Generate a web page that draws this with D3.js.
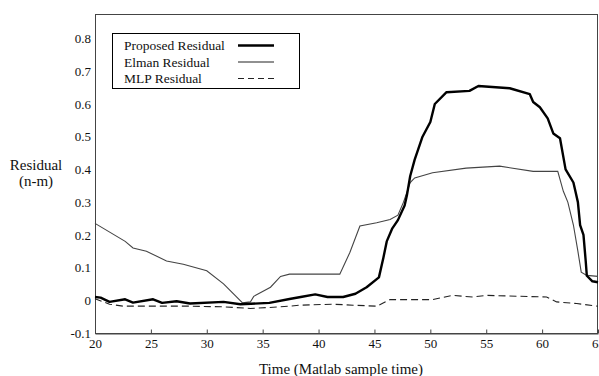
<!DOCTYPE html>
<html>
<head>
<meta charset="utf-8">
<script src="https://cdn.jsdelivr.net/npm/d3@7"></script>
<style>
  body{margin:0;background:#fff;}
  svg text{font-family:"Liberation Serif","Times New Roman",serif;fill:#111;}
</style>
</head>
<body>
<svg id="chart" width="599" height="376"></svg>
<script>
// time (x) and residual (y) for each curve
var proposedT=[20,20.5,21.3,22.7,23.4,25.2,26,27.3,28.5,31.5,33,35.6,37.4,38.4,39.7,40.8,42.2,43.3,44.3,45.4,45.8,46.1,46.6,47.1,47.7,47.9,48.2,48.6,49.3,50.0,50.4,51.45,53.5,54.3,57.1,58.9,59.2,59.8,60.5,61.0,61.6,62.1,62.8,63.0,63.2,63.4,63.7,63.9,64.0,64.5,65];
var proposedV=[0.01,0.008,-0.005,0.003,-0.007,0.003,-0.008,-0.003,-0.01,-0.005,-0.012,-0.008,0.004,0.01,0.018,0.01,0.01,0.02,0.04,0.07,0.13,0.18,0.22,0.245,0.29,0.32,0.38,0.43,0.50,0.545,0.60,0.636,0.64,0.655,0.648,0.63,0.606,0.59,0.556,0.51,0.495,0.40,0.36,0.33,0.30,0.23,0.2,0.12,0.075,0.058,0.055];

var elmanT=[20,22.7,23.4,24.6,26.4,27.9,30.0,31.5,33.2,33.9,34.2,35.7,36.6,37.4,41.9,42.8,43.7,45.2,46.4,47.1,47.6,48.2,48.6,50.2,53.2,56.2,59.2,61.4,61.9,62.3,62.8,63.2,63.5,64,65];
var elmanV=[0.235,0.18,0.16,0.15,0.12,0.11,0.09,0.05,-0.008,-0.005,0.012,0.04,0.073,0.08,0.08,0.146,0.227,0.237,0.247,0.26,0.30,0.36,0.374,0.39,0.404,0.41,0.394,0.394,0.333,0.30,0.23,0.15,0.086,0.076,0.073];

var mlpT=[20,21.3,22.5,28.5,31.5,33.9,35.6,37.4,38.3,41.3,43.1,45.2,46.4,50.2,52,53.8,55,60.4,61.3,63.1,65];
var mlpV=[0.005,-0.012,-0.018,-0.018,-0.02,-0.025,-0.022,-0.018,-0.015,-0.012,-0.015,-0.018,0.002,0.002,0.015,0.01,0.015,0.01,-0.005,-0.01,-0.018];

var xTicks=[20,25,30,35,40,45,50,55,60,65];
var yTicks=[-0.1,0,0.1,0.2,0.3,0.4,0.5,0.6,0.7,0.8];
var yTickLabels=["-0.1","0","0.1","0.2","0.3","0.4","0.5","0.6","0.7","0.8"];
var seriesNames=["Proposed Residual","Elman Residual","MLP Residual"];

(function(){
    var svg=d3.select('#chart');
    var pl=95,pr=598,pt=14,pb=333;

    var x=d3.scaleLinear().domain([20,65]).range([pl,pr]);
    var y=d3.scaleLinear().domain([-0.1,0.875]).range([pb,pt]);

    // frame
    svg.append('rect')
        .attr('x',pl+0.5).attr('y',pt+0.5)
        .attr('width',pr-pl-1).attr('height',pb-pt)
        .attr('fill','none').attr('stroke','#444').attr('stroke-width',1);

    // x axis, ticks pointing in
    var xAxis=d3.axisBottom(x).tickValues(xTicks).tickSizeInner(-4).tickSizeOuter(0).tickPadding(5)
        .tickFormat(d3.format('d'));
    var gx=svg.append('g').attr('transform','translate(0,'+(pb+0.5)+')').call(xAxis);
    gx.select('.domain').attr('stroke','#444');
    gx.selectAll('line').attr('stroke','#444');
    gx.selectAll('text').attr('font-size',13).attr('font-family','Liberation Serif').attr('fill','#222');

    // y axis labels only
    var yAxis=d3.axisLeft(y).tickValues(yTicks).tickSize(0).tickPadding(4)
        .tickFormat(function(d,i){return yTickLabels[i];});
    var gy=svg.append('g').attr('transform','translate('+pl+',0)').call(yAxis);
    gy.select('.domain').remove();
    gy.selectAll('text').attr('font-size',13).attr('font-family','Liberation Serif').attr('fill','#222');

    // axis titles
    svg.append('text').attr('x',36).attr('y',170).attr('text-anchor','middle')
        .attr('font-size',15).text('Residual');
    svg.append('text').attr('x',36).attr('y',186).attr('text-anchor','middle')
        .attr('font-size',15).text('(n-m)');
    svg.append('text').attr('x',341).attr('y',374).attr('text-anchor','middle')
        .attr('font-size',15).text('Time (Matlab sample time)');

    // curves
    var line=d3.line().x(function(d){return x(d[0]);}).y(function(d){return y(d[1]);});
    function pairs(t,v){return t.map(function(d,i){return [d,v[i]];});}

    svg.append('path').datum(pairs(mlpT,mlpV)).attr('d',line)
        .attr('fill','none').attr('stroke','#222').attr('stroke-width',1.1).attr('stroke-dasharray','7,4');
    svg.append('path').datum(pairs(elmanT,elmanV)).attr('d',line)
        .attr('fill','none').attr('stroke','#444').attr('stroke-width',1.1);
    svg.append('path').datum(pairs(proposedT,proposedV)).attr('d',line)
        .attr('fill','none').attr('stroke','#000').attr('stroke-width',2.4).attr('stroke-linejoin','round');

    // legend
    var lg=svg.append('g');
    lg.append('rect').attr('x',112.5).attr('y',33.5).attr('width',187).attr('height',55)
        .attr('fill','#fff').attr('stroke','#000').attr('stroke-width',1);
    var styles=[{w:2.4,dash:null,c:'#000'},{w:1.1,dash:null,c:'#222'},{w:1.1,dash:'6,4',c:'#222'}];
    seriesNames.forEach(function(name,i){
        var yy=50+i*16.5;
        lg.append('text').attr('x',124).attr('y',yy).attr('font-size',13.5).text(name);
        lg.append('line').attr('x1',238).attr('x2',274).attr('y1',yy-4.5).attr('y2',yy-4.5)
            .attr('stroke',styles[i].c).attr('stroke-width',styles[i].w)
            .attr('stroke-dasharray',styles[i].dash);
    });
})();
</script>
</body>
</html>
